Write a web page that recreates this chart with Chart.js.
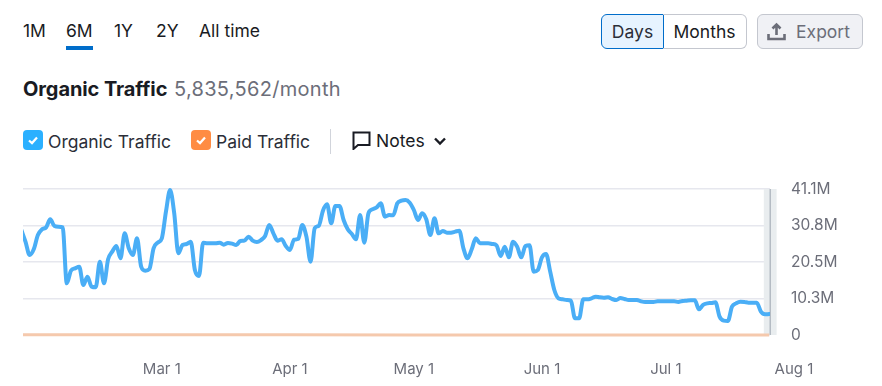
<!DOCTYPE html>
<html>
<head>
<meta charset="utf-8">
<title>Organic Traffic</title>
<script src="https://cdn.jsdelivr.net/npm/chart.js@4/dist/chart.umd.min.js"></script>
<style>
    html, body { margin: 0; padding: 0; background: #fff; }
    body { width: 882px; height: 386px; overflow: hidden; position: relative; font-family: Inter, sans-serif; color: #191b23; }
    #trafficChart { position: absolute; left: 0; top: 0; }
    .abs { position: absolute; white-space: nowrap; }
    .tab { top: 20px; font-size: 17.5px; line-height: 21px; }
    .underline { left: 66px; top: 46px; width: 27px; height: 4px; background: #006dca; }
    .title { left: 23px; top: 78px; font-size: 20px; line-height: 22px; font-weight: 700; letter-spacing: -0.1px; }
    .total { left: 174px; top: 78px; font-size: 20px; line-height: 22px; color: #6c6e79; letter-spacing: 0.3px; }
    .check { top: 130px; width: 20px; height: 20px; border-radius: 4px; }
    .check svg { display: block; }
    .legend { top: 131px; font-size: 17.5px; line-height: 21px; color: #2b2e38; }
    .divider { left: 330px; top: 129px; width: 1px; height: 25px; background: #d1d4db; }
    .btn { top: 14px; height: 33px; box-sizing: content-box; border: 1px solid #c4c7cf; font-size: 17.5px; line-height: 33px; text-align: center; }
    .days { left: 601px; width: 61px; background: #e6f3ff; border-color: #006dca; border-radius: 6px 0 0 6px; color: #2b2e38; }
    .months { left: 663px; width: 83px; border-left: 0; border-radius: 0 6px 6px 0; }
    .export { left: 757px; width: 104px; background: #f0f1f5; border-radius: 6px; color: #6c6e79; padding: 0; text-indent: 26px; }
</style>
</head>
<body>
<div class="abs tab" style="left:23px">1M</div>
<div class="abs tab" style="left:66px">6M</div>
<div class="abs underline"></div>
<div class="abs tab" style="left:114px">1Y</div>
<div class="abs tab" style="left:156px">2Y</div>
<div class="abs tab" style="left:199px">All time</div>

<div class="abs btn days">Days</div>
<div class="abs btn months">Months</div>
<div class="abs btn export">Export</div>
<svg class="abs" style="left:767px;top:22px" width="19" height="19" viewBox="0 0 19 19" fill="none" stroke="#6c6e79" stroke-width="2.6">
    <path d="M9.5 13V3M5.5 6.5l4-4 4 4M1.5 12v5h16v-5"/>
</svg>

<div class="abs title">Organic Traffic</div>
<div class="abs total">5,835,562/month</div>

<div class="abs check" style="left:23px;background:#2bb0ff">
    <svg width="20" height="20" fill="none" stroke="#fff" stroke-width="2.2"><path d="M6 10.5l3 2.6 5-5.6"/></svg>
</div>
<div class="abs legend" style="left:48px">Organic Traffic</div>
<div class="abs check" style="left:191px;background:#ff8c43">
    <svg width="20" height="20" fill="none" stroke="#fff" stroke-width="2.2"><path d="M6 10.5l3 2.6 5-5.6"/></svg>
</div>
<div class="abs legend" style="left:216px">Paid Traffic</div>
<div class="abs divider"></div>
<svg class="abs" style="left:352px;top:131px" width="19" height="19" viewBox="0 0 19 19" fill="none" stroke="#191b23" stroke-width="2">
    <path d="M1.5 1.5h16v12.5H6L1.5 18z"/>
</svg>
<div class="abs legend" style="left:376px;top:130px;color:#191b23">Notes</div>
<svg class="abs" style="left:434px;top:137px" width="12" height="9" fill="none" stroke="#191b23" stroke-width="2.4">
    <path d="M1 1.5l5 5 5-5"/>
</svg>

<canvas id="trafficChart" width="882" height="386"></canvas>

<script>
// days counted from the first point of the 6M window, Mar 1 is day 34
const organicTraffic = [
    29.56, 26.28, 22.52, 24.12, 28.15, 29.75, 30.31, 32.56, 30.69, 30.50,
    30.31, 14.55, 18.11, 18.77, 19.24, 14.08, 16.42, 13.61, 13.42, 20.64,
    14.55, 21.30, 23.46, 25.05, 21.58, 28.62, 24.40, 22.52, 27.21, 19.24,
    18.11, 18.58, 24.40, 25.99, 27.21, 34.72, 40.82, 34.25, 22.99, 25.34,
    25.62, 26.28, 18.30, 16.61, 25.99, 25.81, 25.81, 25.81, 25.99, 25.43,
    25.90, 25.71, 25.34, 26.46, 26.56, 27.68, 26.56, 26.18, 26.74, 27.87,
    30.97, 28.62, 26.56, 26.93, 25.05, 23.93, 26.84, 27.03, 30.97, 27.68,
    20.64, 30.03, 30.78, 35.00, 36.79, 31.44, 36.32, 36.32, 32.37, 29.75,
    28.43, 26.93, 33.78, 25.99, 34.25, 35.38, 35.94, 37.07, 33.31, 33.78,
    33.69, 37.07, 37.82, 38.00, 37.25, 35.19, 32.37, 34.25, 32.56, 28.15,
    32.84, 28.62, 29.28, 28.81, 28.81, 29.09, 29.37, 24.40, 21.58, 24.12,
    27.21, 25.81, 25.81, 25.81, 25.62, 25.24, 22.24, 24.87, 21.86, 26.28,
    24.87, 21.86, 25.05, 25.24, 17.83, 18.30, 21.86, 22.80, 17.83, 12.67,
    10.32, 10.04, 9.85, 9.67, 4.69, 4.69, 10.04, 10.04, 10.32, 10.79,
    10.60, 10.51, 10.60, 10.13, 9.85, 10.42, 10.13, 9.85, 9.85, 9.85,
    9.48, 9.29, 9.29, 9.29, 9.48, 9.48, 9.48, 9.48, 9.48, 9.29,
    9.57, 9.67, 9.76, 9.76, 7.23, 8.45, 8.91, 9.01, 9.20, 5.16,
    4.04, 3.94, 7.98, 8.91, 9.38, 9.29, 9.10, 9.10, 9.10, 6.57,
    5.82, 5.91
];
const paidDays = [0, 34, 65, 95, 126, 156, 181];
const paidTraffic = [0.04, 0.04, 0.04, 0.03, 0.03, 0.03, 0.03];
const monthDays = [34, 65, 95, 126, 156, 187];
const monthLabels = ['Mar 1', 'Apr 1', 'May 1', 'Jun 1', 'Jul 1', 'Aug 1'];
const yTicks = [0, 10.275, 20.55, 30.825, 41.1];
const yLabels = ['0', '10.3M', '20.5M', '30.8M', '41.1M'];

const organicPoints = organicTraffic.map((value, day) => ({ x: day, y: value }));
const paidPoints = paidDays.map((day, i) => ({ x: day, y: paidTraffic[i] }));

// grey strip over the last, still incomplete days
const incompleteBand = {
    id: 'incompleteBand',
    beforeDatasetsDraw(chart) {
        const { ctx, chartArea, scales } = chart;
        const from = scales.x.getPixelForValue(179.7);
        const to = scales.x.getPixelForValue(182.8);

        ctx.save();
        ctx.fillStyle = '#e9edef';
        ctx.fillRect(from, chartArea.top, to - from, chartArea.bottom - chartArea.top);
        ctx.fillStyle = '#b4bbc3';
        ctx.fillRect(chartArea.right - 0.5, chartArea.top, 1.5, chartArea.bottom - chartArea.top);
        ctx.restore();
    },
};

new Chart(document.getElementById('trafficChart'), {
    type: 'line',
    data: {
        datasets: [
            {
                label: 'Paid Traffic',
                data: paidPoints,
                borderColor: '#f5c9ad',
                borderWidth: 3,
                pointRadius: 0,
                clip: { left: 0, top: 4, right: 0, bottom: 4 },
            },
            {
                label: 'Organic Traffic',
                data: organicPoints,
                borderColor: '#4aaef6',
                borderWidth: 4,
                borderJoinStyle: 'round',
                borderCapStyle: 'round',
                pointRadius: 0,
                cubicInterpolationMode: 'monotone',
                clip: { left: 0, top: 4, right: 0, bottom: 4 },
            },
        ],
    },
    plugins: [incompleteBand],
    options: {
        responsive: false,
        animation: false,
        layout: {
            padding: { left: 23, top: 189, right: 0, bottom: 0 },
        },
        plugins: {
            legend: { display: false },
            tooltip: { enabled: false },
        },
        scales: {
            x: {
                type: 'linear',
                min: 0.4,
                max: 181.2,
                border: { display: false },
                grid: { display: false },
                afterBuildTicks(scale) {
                    scale.ticks = monthDays.map(day => ({ value: day }));
                },
                afterFit(scale) {
                    scale.height = 51;
                },
                ticks: {
                    autoSkip: false,
                    maxRotation: 0,
                    padding: 17,
                    color: '#6c6e79',
                    font: { family: 'Inter', size: 15 },
                    callback: value => monthLabels[monthDays.indexOf(value)],
                },
            },
            y: {
                position: 'right',
                min: 0,
                max: 41.1,
                border: { display: false },
                grid: { color: '#e6e7ee', lineWidth: 1.5, drawTicks: false },
                afterBuildTicks(scale) {
                    scale.ticks = yTicks.map(value => ({ value }));
                },
                afterFit(scale) {
                    scale.width = 112;
                },
                ticks: {
                    padding: 21,
                    color: '#6c6e79',
                    font: { family: 'Inter', size: 15.5 },
                    callback: value => yLabels[yTicks.indexOf(value)],
                },
            },
        },
    },
});
</script>
</body>
</html>
